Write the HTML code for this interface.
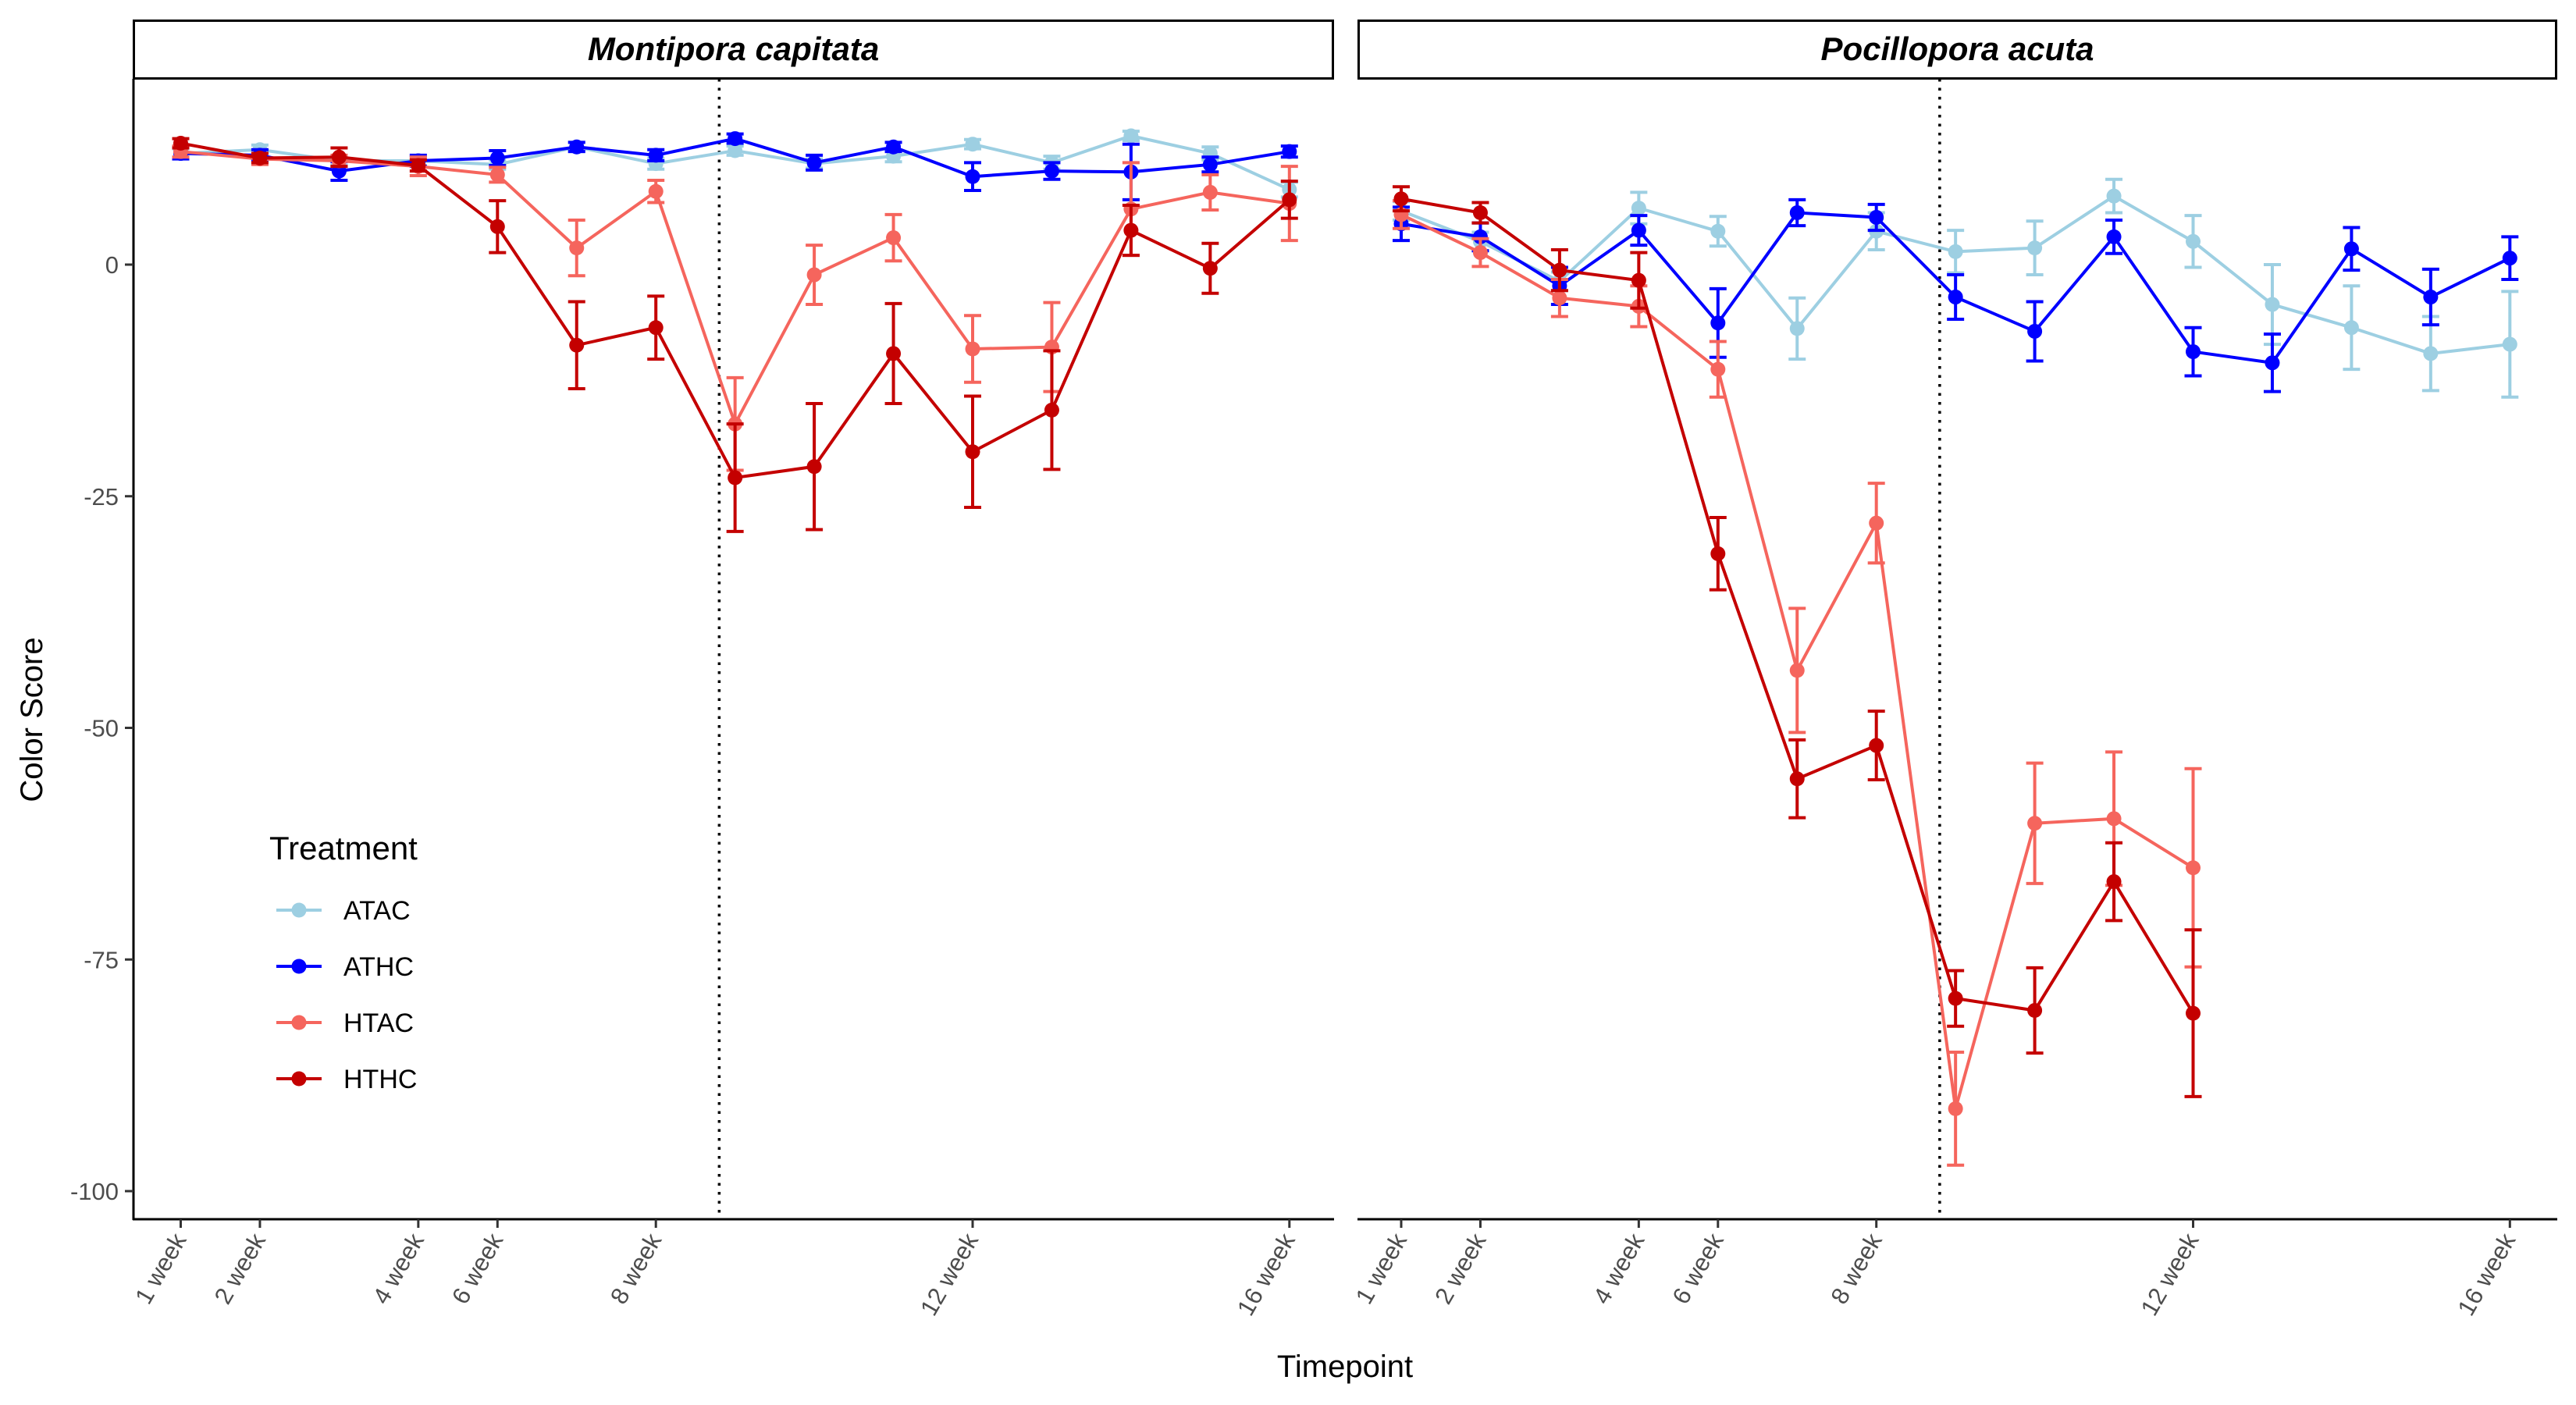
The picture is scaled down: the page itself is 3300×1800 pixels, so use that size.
<!DOCTYPE html>
<html><head><meta charset="utf-8"><style>
body{margin:0;background:#fff}
svg{display:block;font-family:"Liberation Sans",Arial,sans-serif}
</style></head><body>
<svg id="chart" width="3300" height="1800" viewBox="0 0 3300 1800" xmlns="http://www.w3.org/2000/svg">
<rect width="3300" height="1800" fill="#fff"/>
<g id="axes"></g>
<g id="marks"></g>
</svg>
<script>
const tickLabels = ["1 week","2 week","","4 week","6 week","","8 week","","","","12 week","","","","16 week"];
const yTicks = [0,-25,-50,-75,-100];
const series = ["ATAC","ATHC","HTAC","HTHC"];
const colors = ["#9dcfe2","#0000ff","#f5655d","#c40000"];
// Montipora capitata
const mcATAC = [12.0,12.4,11.2,11.2,10.8,12.7,10.9,12.3,10.9,11.7,13.0,11.0,13.9,12.0,8.1];
const mcATACse = [0.5,0.5,0.5,0.5,0.5,0.5,0.6,0.5,0.5,0.6,0.5,0.7,0.5,0.7,0.8];
const mcATHC = [12.0,11.8,10.1,11.2,11.5,12.7,11.8,13.6,11.0,12.7,9.5,10.1,10.0,10.8,12.2];
const mcATHCse = [0.6,0.6,1.0,0.6,0.8,0.5,0.6,0.5,0.8,0.5,1.5,0.9,3.0,0.8,0.6];
const mcHTAC = [12.2,11.4,11.2,10.6,9.7,1.8,7.9,-17.2,-1.1,2.9,-9.1,-8.9,6.0,7.8,6.6];
const mcHTACse = [0.6,0.6,0.6,1.0,0.8,3.0,1.2,5.0,3.2,2.5,3.6,4.8,5.0,1.9,4.0];
const mcHTHC = [13.1,11.5,11.6,10.7,4.1,-8.7,-6.8,-23.0,-21.8,-9.6,-20.2,-15.7,3.7,-0.4,7.0];
const mcHTHCse = [0.5,0.5,1.0,0.6,2.8,4.7,3.4,5.8,6.8,5.4,6.0,6.4,2.7,2.7,2.0];
// Pocillopora acuta
const paATAC = [5.8,2.5,-1.8,6.1,3.6,-6.9,3.6,1.4,1.8,7.4,2.5,-4.3,-6.8,-9.6,-8.6];
const paATACse = [1.0,1.0,1.0,1.7,1.6,3.3,2.0,2.3,2.9,1.8,2.8,4.3,4.5,4.0,5.7];
const paATHC = [4.4,3.0,-2.3,3.7,-6.3,5.6,5.1,-3.5,-7.2,3.0,-9.4,-10.6,1.7,-3.5,0.7];
const paATHCse = [1.8,1.5,2.0,1.6,3.7,1.4,1.4,2.4,3.2,1.8,2.6,3.1,2.3,3.0,2.3];
const paHTAC = [5.4,1.3,-3.6,-4.5,-11.3,-43.8,-27.9,-91.1,-60.3,-59.8,-65.1,null,null,null,null];
const paHTACse = [1.5,1.5,2.0,2.2,3.0,6.7,4.3,6.1,6.5,7.2,10.7,null,null,null,null];
const paHTHC = [7.1,5.6,-0.6,-1.7,-31.2,-55.5,-51.9,-79.2,-80.5,-66.6,-80.8,null,null,null,null];
const paHTHCse = [1.3,1.1,2.2,3.0,3.9,4.2,3.7,3.0,4.6,4.2,9.0,null,null,null,null];

const NS="http://www.w3.org/2000/svg";
const axes=document.getElementById('axes'), marks=document.getElementById('marks');
function mk(tag,attrs,parent,text){const e=document.createElementNS(NS,tag);for(const k in attrs)e.setAttribute(k,attrs[k]);if(text!==undefined)e.textContent=text;parent.appendChild(e);return e;}
const yS=v=>339-v*11.87;
const panels=[
 {name:"Montipora capitata",x0:170,x1:1709,first:231.5,data:[[mcATAC,mcATACse],[mcATHC,mcATHCse],[mcHTAC,mcHTACse],[mcHTHC,mcHTHCse]],slug:"montipora"},
 {name:"Pocillopora acuta",x0:1739,x1:3276,first:1795,data:[[paATAC,paATACse],[paATHC,paATHCse],[paHTAC,paHTACse],[paHTHC,paHTHCse]],slug:"pocillopora"}
];
const step=101.45;
panels.forEach((p,pi)=>{
  const xS=i=>p.first+i*step;
  let r=mk('rect',{x:p.x0+1.5,y:26.5,width:p.x1-p.x0-3,height:74,fill:'#fff',stroke:'#000','stroke-width':3},axes);
  
  
  let t=mk('text',{x:(p.x0+p.x1)/2,y:77,'text-anchor':'middle','font-size':42,'font-weight':'bold','font-style':'italic'},axes,p.name);
  
  
  let ax=mk('line',{x1:p.x0,x2:p.x1,y1:1562,y2:1562,stroke:'#000','stroke-width':3},axes);
  
  
  if(pi===0){
    let ya=mk('line',{x1:171,x2:171,y1:101,y2:1563,stroke:'#000','stroke-width':3},axes);
    
    
    yTicks.forEach(v=>{
      mk('line',{x1:160,x2:171,y1:yS(v),y2:yS(v),stroke:'#333','stroke-width':3},axes);
      let lt=mk('text',{x:152,y:yS(v)+11,'text-anchor':'end','font-size':31,fill:'#4d4d4d'},axes,String(v));
      
      
    });
  }
  tickLabels.forEach((lab,i)=>{
    if(!lab)return;
    const x=xS(i);
    mk('line',{x1:x,x2:x,y1:1562,y2:1573,stroke:'#333','stroke-width':3},axes);
    let lt=mk('text',{x:x+8,y:1588,'text-anchor':'end','font-size':31,fill:'#4d4d4d',transform:`rotate(-60 ${x+8} 1588)`},axes,lab);
    
    
  });
  const dx=xS(6.8);
  let dl=mk('line',{x1:dx,x2:dx,y1:101,y2:1562,stroke:'#000','stroke-width':3.5,'stroke-dasharray':'3.5 8'},axes);
  
  
  p.data.forEach(([vals,se],si)=>{
    const g=mk('g',{},marks);
    
    
    const c=colors[si];
    let pts=[];
    vals.forEach((v,i)=>{ if(v!==null) pts.push(xS(i)+','+yS(v)); });
    mk('polyline',{points:pts.join(' '),fill:'none',stroke:c,'stroke-width':4},g);
    vals.forEach((v,i)=>{
      if(v===null)return;
      const x=xS(i),e=se[i];
      mk('path',{d:`M${x},${yS(v+e)}V${yS(v-e)}M${x-11},${yS(v+e)}H${x+11}M${x-11},${yS(v-e)}H${x+11}`,stroke:c,'stroke-width':4,fill:'none'},g);
      let pt=mk('circle',{cx:x,cy:yS(v),r:9.5,fill:c},g);
      
      
    });
  });
});
let xt=mk('text',{x:1723,y:1764,'text-anchor':'middle','font-size':40},axes,'Timepoint');


let yt=mk('text',{x:54,y:922,'text-anchor':'middle','font-size':40,transform:'rotate(-90 54 922)'},axes,'Color Score');


const lg=mk('g',{},marks);


let lt=mk('text',{x:345,y:1101,'font-size':42},lg,'Treatment');


const ly=[1166,1238,1310,1382];
series.forEach((s,i)=>{
  const e=mk('g',{},lg);
  
  
  mk('line',{x1:354,x2:412,y1:ly[i],y2:ly[i],stroke:colors[i],'stroke-width':4},e);
  mk('circle',{cx:383,cy:ly[i],r:9.5,fill:colors[i]},e);
  mk('text',{x:440,y:ly[i]+12,'font-size':34},e,s);
});
</script>
</body></html>
